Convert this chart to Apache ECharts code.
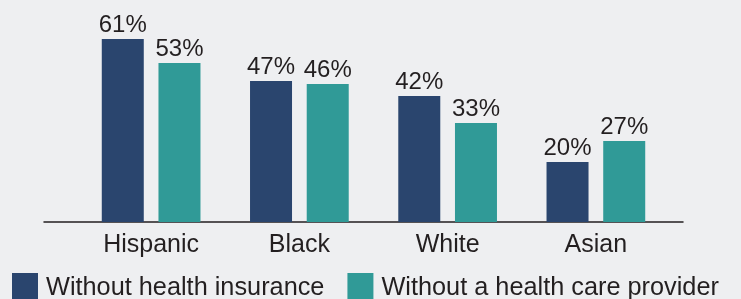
<!DOCTYPE html>
<html>
<head>
<meta charset="utf-8">
<script src="https://cdn.jsdelivr.net/npm/echarts@6/dist/echarts.min.js"></script>
<style>
html,body{margin:0;padding:0;background:#eeeff1;}
#chart{width:741px;height:299px;}
</style>
</head>
<body>
<div id="chart"></div>
<script>
var categories=['Hispanic','Black','White','Asian'];
var noInsurance=[61,47,42,20];
var noProvider=[53,46,33,27];
var seriesNames=['Without health insurance','Without a health care provider'];

var font='"Liberation Sans", Arial, Helvetica, sans-serif';
var chart=echarts.init(document.getElementById('chart'));
var labelOpt={
	show:true,
	position:'top',
	distance:2,
	formatter:'{c}%',
	fontFamily:font,
	fontSize:24,
	color:'#231f20'
};
var option={
	backgroundColor:'#eeeff1',
	animation:false,
	legend:{
		data:seriesNames,
		left:12,
		top:273,
		padding:0,
		itemWidth:26,
		itemHeight:30,
		itemGap:23,
		icon:'rect',
		textStyle:{fontFamily:font,fontSize:25.3,color:'#231f20',padding:[0,0,0,3]}
	},
	grid:[
		{left:77,right:71,top:12,bottom:77},
		{left:44,right:58,top:12,bottom:77}
	],
	xAxis:[
		{
			type:'category',
			gridIndex:0,
			data:categories,
			axisLine:{show:false},
			axisTick:{show:false},
			axisLabel:{fontFamily:font,fontSize:25,color:'#231f20',margin:11}
		},
		{
			type:'value',
			gridIndex:1,
			axisLine:{show:true,lineStyle:{color:'#231f20',width:1.5}},
			axisTick:{show:false},
			axisLabel:{show:false},
			splitLine:{show:false}
		}
	],
	yAxis:[
		{type:'value',gridIndex:0,min:0,max:70,show:false,splitLine:{show:false}},
		{type:'value',gridIndex:1,min:0,max:70,show:false,splitLine:{show:false}}
	],
	series:[
		{
			name:seriesNames[0],
			type:'bar',
			data:noInsurance,
			barWidth:42,
			barGap:'35%',
			itemStyle:{color:'#2a456e'},
			label:labelOpt
		},
		{
			name:seriesNames[1],
			type:'bar',
			data:noProvider,
			barWidth:42,
			barGap:'35%',
			itemStyle:{color:'#309a97'},
			label:labelOpt
		}
	]
};
chart.setOption(option);
</script>
</body>
</html>
